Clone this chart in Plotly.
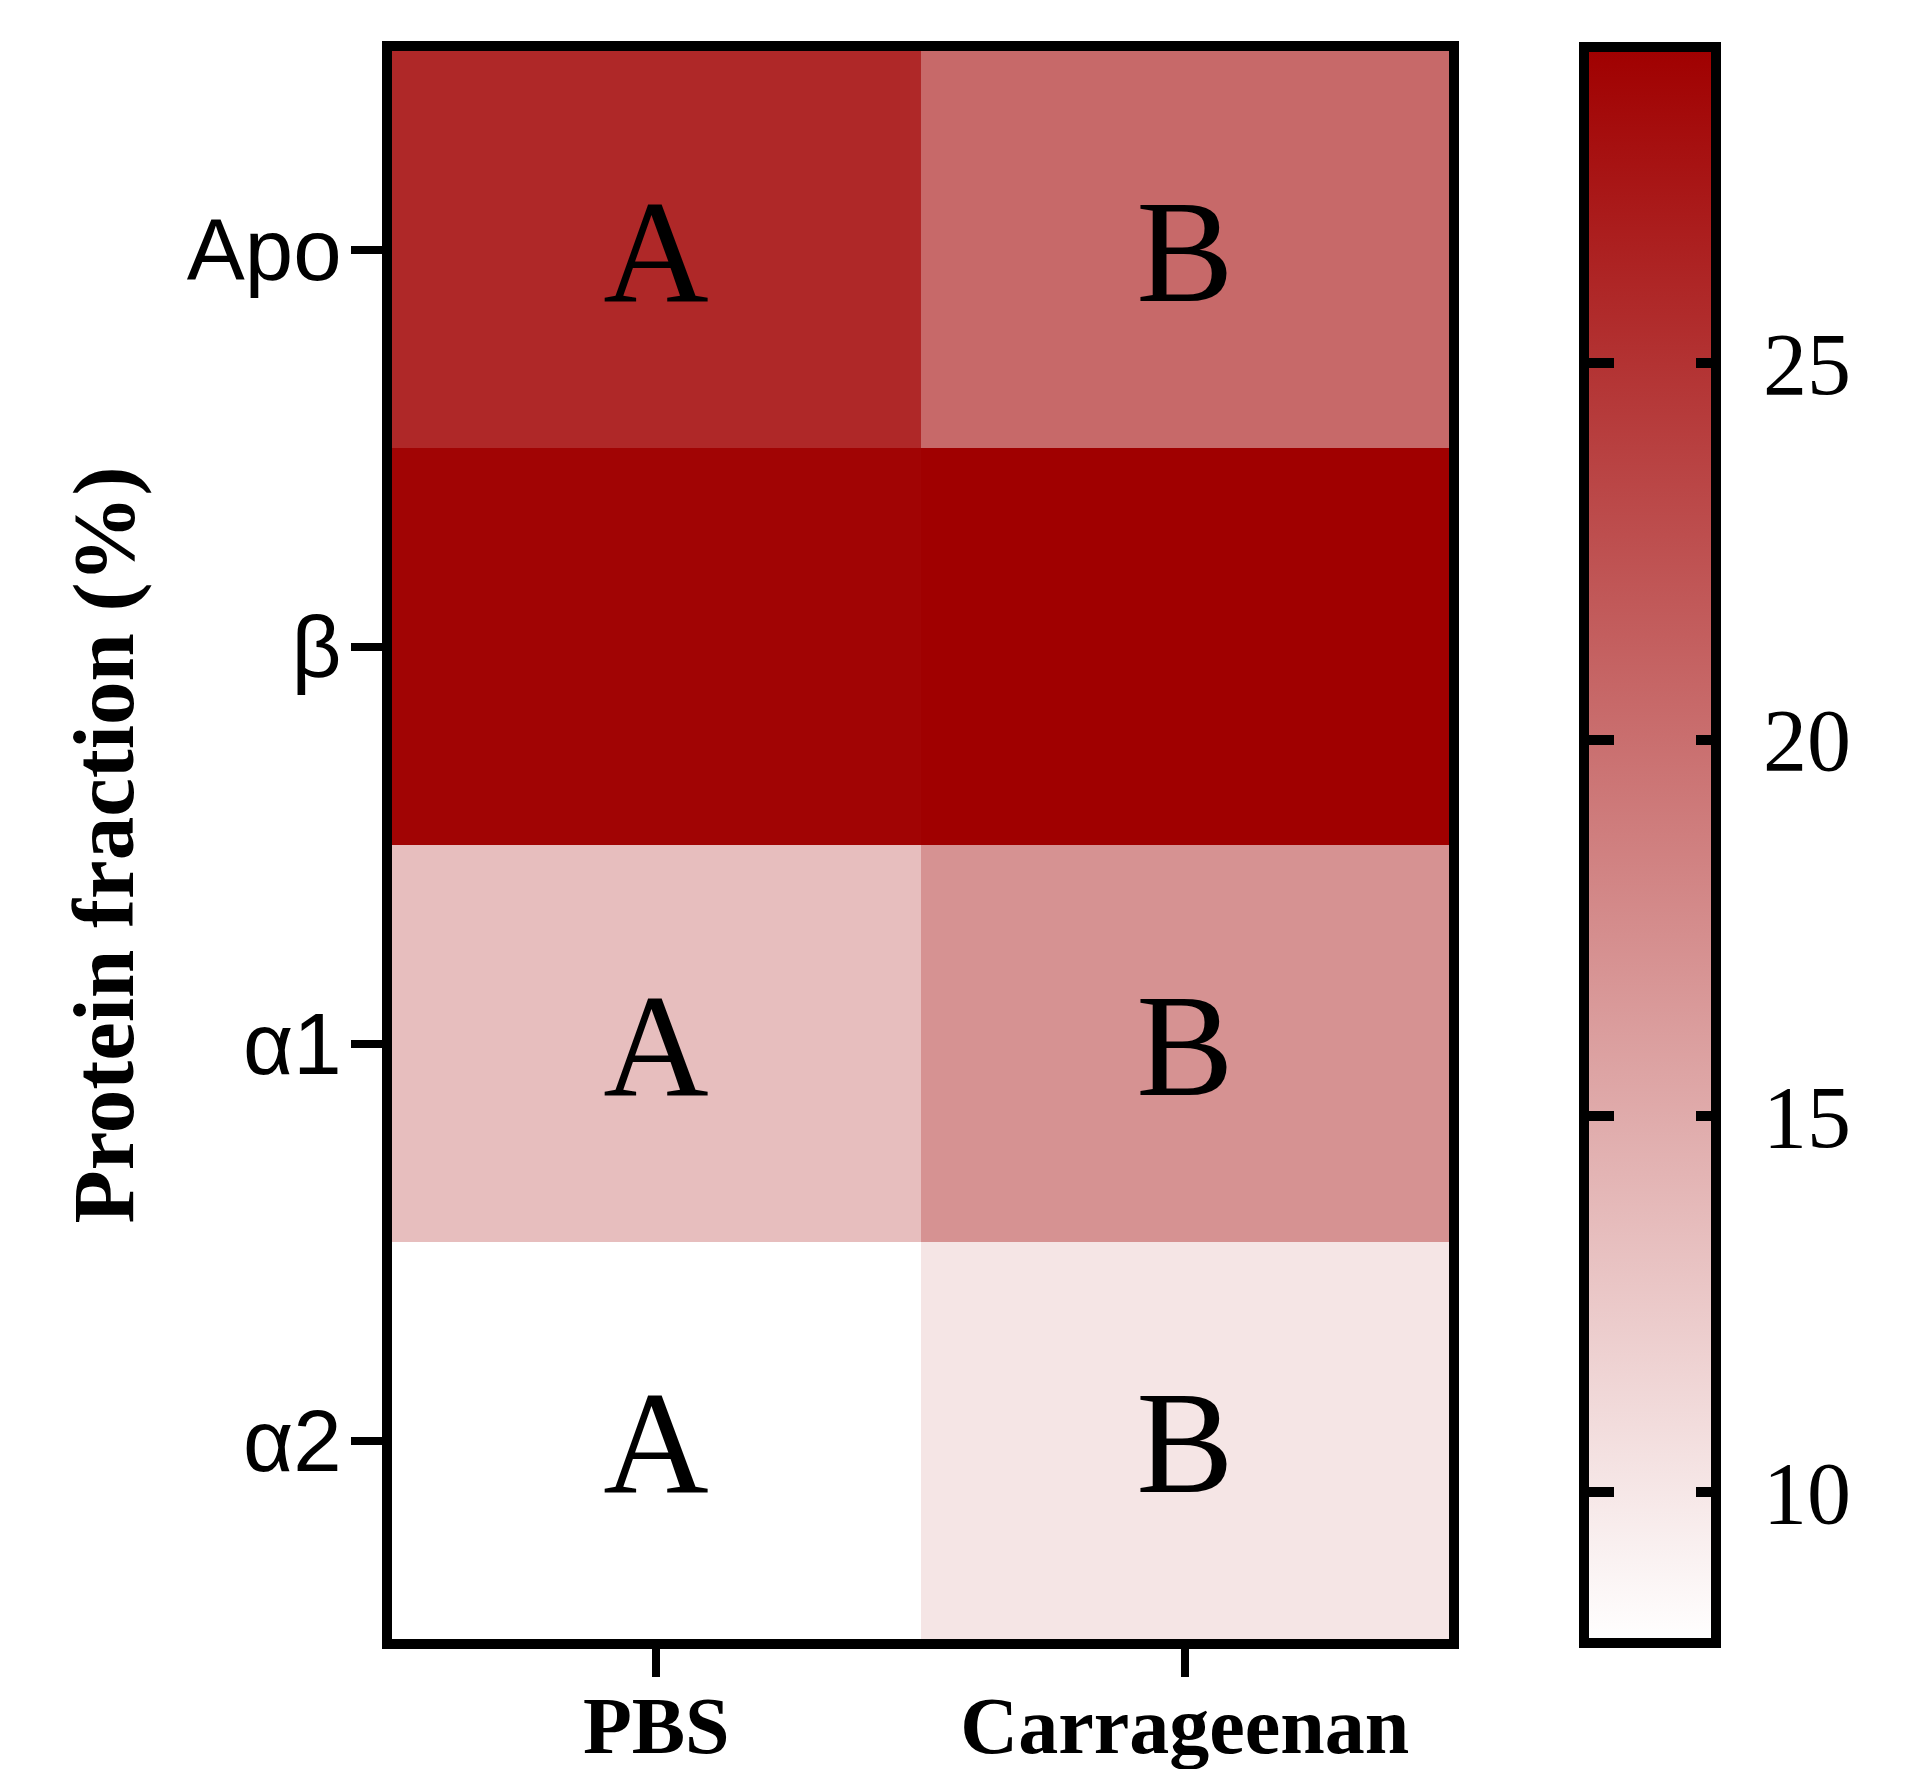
import plotly.graph_objects as go

# ---- data ----
groups = ["PBS", "Carrageenan"]
fractions = ["Apo", "β", "α1", "α2"]
pbs_values = [25.9, 28.9, 13.4, 8.0]
carrageenan_values = [20.5, 29.2, 17.1, 10.2]
pbs_letters = ["A", "", "A", "A"]
carrageenan_letters = ["B", "", "B", "B"]
cbar_ticks = [10, 15, 20, 25]

z = [[p, c] for p, c in zip(pbs_values, carrageenan_values)]
text = [[a, b] for a, b in zip(pbs_letters, carrageenan_letters)]
zmin = min(pbs_values + carrageenan_values)
zmax = max(pbs_values + carrageenan_values)

W, H = 1914, 1769
ML, MR, MT, MB = 384, 10, 43, 138
paper_w = W - ML - MR
plot_right = 1441
cbar_outer_left = 1576
cbar_thick = 132
cbar_outline = 10
tickbar_thick = 10
label_shift = 29

SERIF = "Liberation Serif"
SANS = "Liberation Sans"
SCALE = [[0, "#FFFFFF"], [1, "#A00000"]]
CLEAR = [[0, "rgba(0,0,0,0)"], [1, "rgba(0,0,0,0)"]]


def bar(x_px, thick, **kw):
    base = dict(
        thickness=thick, thicknessmode="pixels",
        len=1.005, lenmode="fraction", y=0.5, yanchor="middle",
        x=(x_px - ML) / paper_w, xanchor="left",
        xpad=0, ypad=0, tickvals=cbar_ticks,
    )
    base.update(kw)
    return base


fig = go.Figure()
# main heatmap with its colorbar (ticks on the right inner edge, no labels)
fig.add_trace(go.Heatmap(
    x=groups, y=fractions, z=z, text=text,
    texttemplate="%{text}",
    textfont=dict(family=SERIF, size=146, color="black"),
    zmin=zmin, zmax=zmax, colorscale=SCALE, hoverinfo="skip",
    colorbar=bar(cbar_outer_left, cbar_thick,
                 outlinewidth=cbar_outline, outlinecolor="black",
                 ticks="inside", ticklen=25, tickwidth=10, tickcolor="black",
                 showticklabels=False),
))
# transparent twin: ticks on the left inner edge
fig.add_trace(go.Heatmap(
    x=groups, y=fractions, z=z, zmin=zmin, zmax=zmax,
    colorscale=CLEAR, hoverinfo="skip",
    colorbar=bar(cbar_outer_left + cbar_outline / 2 - tickbar_thick, tickbar_thick,
                 outlinewidth=0,
                 ticks="outside", ticklen=25, tickwidth=10, tickcolor="black",
                 showticklabels=False),
))
# transparent twin: tick labels
fig.add_trace(go.Heatmap(
    x=groups, y=fractions, z=z, zmin=zmin, zmax=zmax,
    colorscale=CLEAR, hoverinfo="skip",
    colorbar=bar(cbar_outer_left + label_shift, cbar_thick,
                 outlinewidth=0,
                 ticks="inside", ticklen=25, tickwidth=10, tickcolor="rgba(0,0,0,0)",
                 tickprefix="\u00a0\u00a0",
                 tickfont=dict(family=SERIF, size=88, color="black")),
))

fig.update_layout(
    width=W, height=H,
    margin=dict(l=ML, r=MR, t=MT, b=MB, autoexpand=False),
    paper_bgcolor="white", plot_bgcolor="white",
    showlegend=False,
    xaxis=dict(
        domain=[0, (plot_right - ML) / paper_w],
        automargin=False,
        showline=True, linewidth=10, linecolor="black", mirror=True,
        ticks="outside", ticklen=28, tickwidth=8, tickcolor="black",
        ticklabelstandoff=-20,
        tickfont=dict(family=SERIF, size=80, color="black", weight="bold"),
        showgrid=False, zeroline=False,
    ),
    yaxis=dict(
        autorange="reversed", automargin=False,
        showline=True, linewidth=10, linecolor="black", mirror=True,
        ticks="outside", ticklen=31, tickwidth=8, tickcolor="black",
        ticklabelstandoff=-8,
        tickfont=dict(family=SANS, size=87, color="black"),
        showgrid=False, zeroline=False,
        title=dict(text="Protein fraction (%)", standoff=28,
                   font=dict(family=SERIF, size=87, color="black", weight="bold")),
    ),
)

fig.write_html("out.html")
